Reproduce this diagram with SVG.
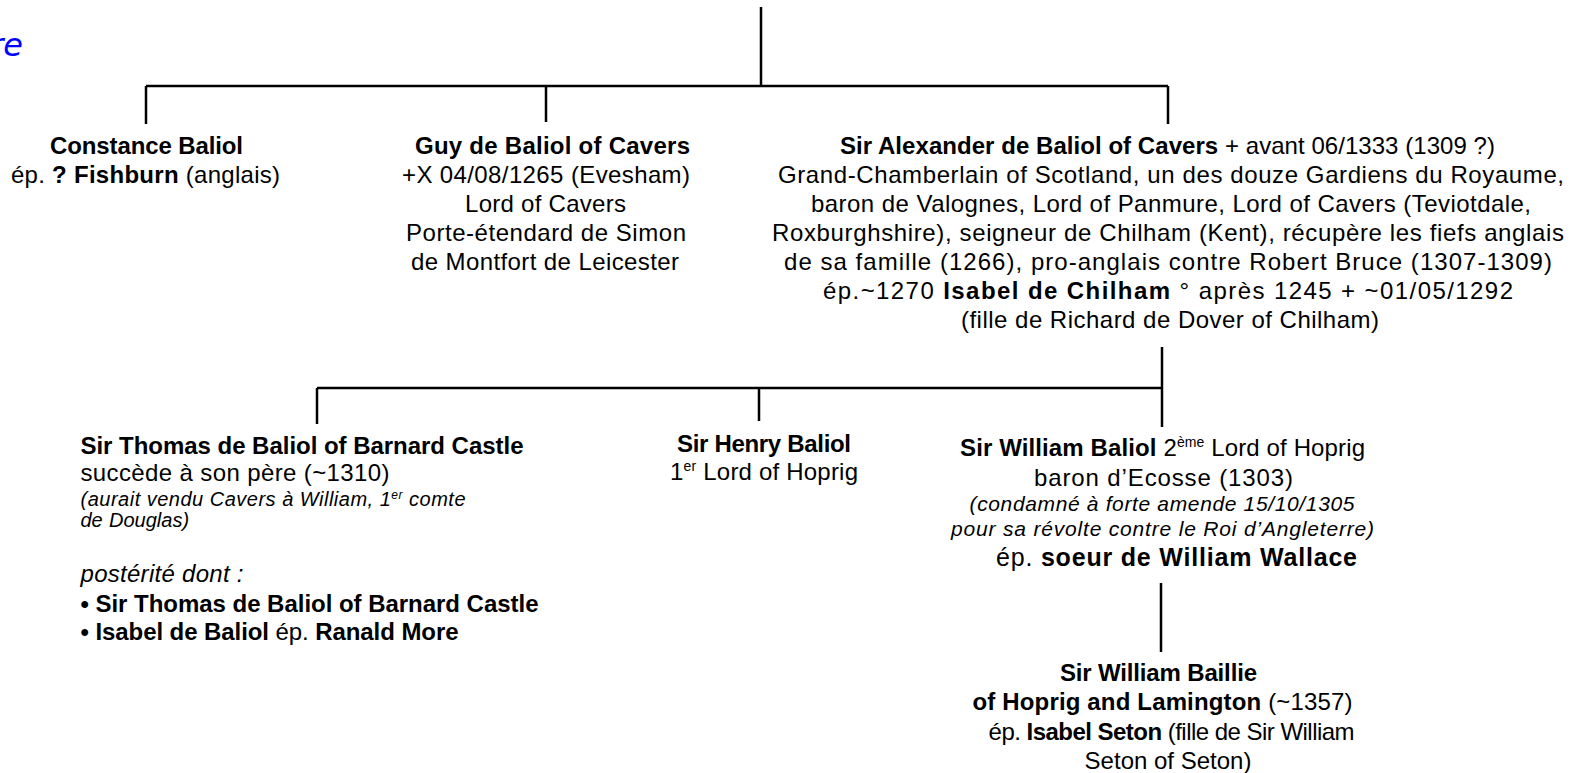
<svg xmlns="http://www.w3.org/2000/svg" width="1577" height="773" viewBox="0 0 1577 773">
<style>
text{font-family:"Liberation Sans",Arial,sans-serif;font-size:24px;fill:#000}
.b{font-weight:bold}
.i{font-style:italic}
.s20{font-size:20px}
.s21{font-size:21px}
.s26{font-size:25px}
.sup{font-size:14px}
.sup2{font-size:12px}
.mid{text-anchor:middle}
.blue{font-family:"DejaVu Sans",Verdana,sans-serif;font-size:32px;font-style:italic;fill:#0000ff;text-anchor:end}
.ln{stroke:#000;stroke-width:2.5;fill:none}
</style>
<rect width="1577" height="773" fill="#fff"/>
<text class="blue" x="23" y="56">re</text>
<g id="connectors">
<line class="ln" x1="761" y1="7" x2="761" y2="86"/>
<line class="ln" x1="146" y1="86" x2="1168" y2="86"/>
<line class="ln" x1="146" y1="86" x2="146" y2="124"/>
<line class="ln" x1="546" y1="86" x2="546" y2="122"/>
<line class="ln" x1="1168" y1="86" x2="1168" y2="124"/>
<line class="ln" x1="1162" y1="347" x2="1162" y2="427"/>
<line class="ln" x1="317" y1="388" x2="1162" y2="388"/>
<line class="ln" x1="317" y1="388" x2="317" y2="424"/>
<line class="ln" x1="759" y1="388" x2="759" y2="421"/>
<line class="ln" x1="1161" y1="583" x2="1161" y2="652"/>
</g>
<g id="constance">
<text class="b" x="50" y="154" textLength="193">Constance Baliol</text>
<text x="11" y="183" textLength="269">ép. <tspan class="b">? Fishburn</tspan> (anglais)</text>
</g>
<g id="guy">
<text class="b" x="415" y="154" textLength="275">Guy de Baliol of Cavers</text>
<text x="402" y="183" textLength="288">+X 04/08/1265 (Evesham)</text>
<text x="465" y="211.5" textLength="161">Lord of Cavers</text>
<text x="406" y="240.5" textLength="280">Porte-étendard de Simon</text>
<text x="411" y="269.5" textLength="268">de Montfort de Leicester</text>
</g>
<g id="alexander">
<text x="840" y="154" textLength="655"><tspan class="b">Sir Alexander de Baliol of Cavers</tspan> + avant 06/1333 (1309 ?)</text>
<text x="778" y="183" textLength="786">Grand-Chamberlain of Scotland, un des douze Gardiens du Royaume,</text>
<text x="811" y="211.5" textLength="720">baron de Valognes, Lord of Panmure, Lord of Cavers (Teviotdale,</text>
<text x="772" y="240.5" textLength="792">Roxburghshire), seigneur de Chilham (Kent), récupère les fiefs anglais</text>
<text x="784" y="269.5" textLength="768">de sa famille (1266), pro-anglais contre Robert Bruce (1307-1309)</text>
<text x="823" y="298.5" textLength="690">ép.~1270 <tspan class="b">Isabel de Chilham</tspan> ° après 1245 + ~01/05/1292</text>
<text x="961" y="327.5" textLength="418">(fille de Richard de Dover of Chilham)</text>
</g>
<g id="thomas">
<text class="b" x="80.5" y="454" textLength="443">Sir Thomas de Baliol of Barnard Castle</text>
<text x="80.5" y="481" textLength="309">succède à son père (~1310)</text>
<text class="i s20" x="80.5" y="506" textLength="385">(aurait vendu Cavers à William, 1<tspan class="sup2" dy="-7">er</tspan><tspan dy="7"> comte</tspan></text>
<text class="i s20" x="80.5" y="527">de<tspan x="109">Douglas)</tspan></text>
<text class="i" x="80.5" y="582" textLength="163">postérité dont :</text>
<text class="b" x="80.5" y="611.5" textLength="458">• Sir Thomas de Baliol of Barnard Castle</text>
<text x="80.5" y="640" textLength="378"><tspan class="b">• Isabel de Baliol</tspan> ép. <tspan class="b">Ranald More</tspan></text>
</g>
<g id="henry">
<text class="b" x="677" y="452" textLength="174">Sir Henry Baliol</text>
<text x="670" y="480" textLength="188">1<tspan class="sup" dy="-9">er</tspan><tspan dy="9"> Lord of Hoprig</tspan></text>
</g>
<g id="william">
<text x="960" y="456" textLength="405"><tspan class="b">Sir William Baliol</tspan> 2<tspan class="sup" dy="-9">ème</tspan><tspan dy="9"> Lord of Hoprig</tspan></text>
<text x="1034" y="486" textLength="259">baron d’Ecosse (1303)</text>
<text class="i s21" x="969.5" y="511" textLength="385">(condamné à forte amende 15/10/1305</text>
<text class="i s21" x="951" y="536" textLength="423">pour sa révolte contre le Roi d’Angleterre)</text>
<text class="s26" x="996" y="566" textLength="361">ép. <tspan class="b">soeur de William Wallace</tspan></text>
</g>
<g id="baillie">
<text class="b" x="1060" y="681" textLength="197">Sir William Baillie</text>
<text x="972.5" y="710" textLength="380"><tspan class="b">of Hoprig and Lamington</tspan> (~1357)</text>
<text x="988.6" y="739.5" textLength="366">ép. <tspan class="b">Isabel Seton</tspan> (fille de Sir William</text>
<text class="mid" x="1168" y="768.5">Seton of Seton)</text>
</g>
</svg>
